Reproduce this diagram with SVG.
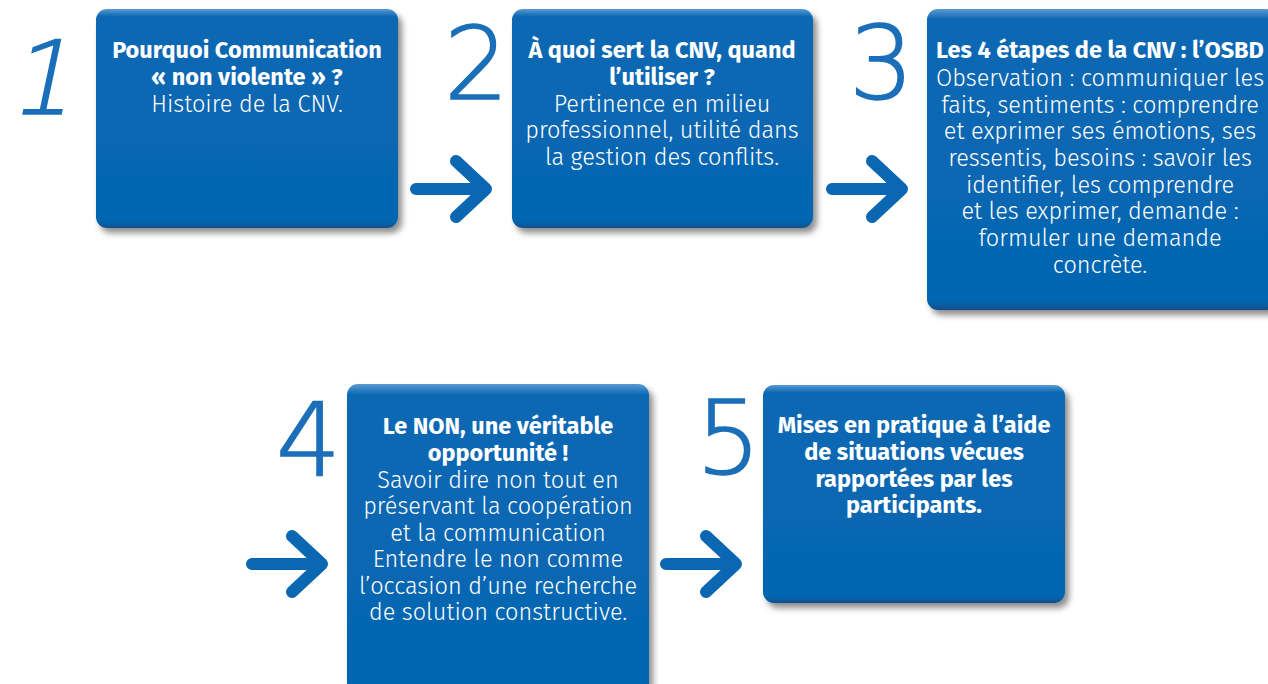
<svg xmlns="http://www.w3.org/2000/svg" width="1268" height="684" viewBox="0 0 1268 684">
<defs>
<linearGradient id="boxg" x1="0" y1="0" x2="0" y2="1">
<stop offset="0" stop-color="#5a9ad2"/>
<stop offset="0.035" stop-color="#0a67b3"/>
<stop offset="0.97" stop-color="#0566b2"/>
<stop offset="1" stop-color="#0b4f8a"/>
</linearGradient>
<filter id="sh" x="-10%" y="-10%" width="125%" height="125%">
<feDropShadow dx="4" dy="5" stdDeviation="3" flood-color="#000" flood-opacity="0.45"/>
</filter>
<symbol id="arrow" viewBox="0 0 84 70" overflow="visible">
<path d="M6 35 H74 M46 7 L76 35 L46 63" fill="none" stroke="#0b67b2" stroke-width="12" stroke-linecap="round" stroke-linejoin="round"/>
</symbol>
</defs>
<style>
.box{fill:url(#boxg);filter:url(#sh)}
.num{font-family:"DejaVu Sans","Liberation Sans",sans-serif;font-weight:200;font-size:102px;fill:#1b6fb8;stroke:#1b6fb8;stroke-width:1.6}
.t{font-family:"Fira Sans","Noto Sans","Liberation Sans",sans-serif;font-size:23.5px;fill:#fff;text-anchor:middle}
.b{font-weight:bold}
.l{font-weight:300}
</style>
<rect width="1268" height="684" fill="#fff"/>
<g id="connectors">
<use href="#arrow" x="410" y="154" width="84" height="70"/>
<use href="#arrow" x="826" y="154" width="84" height="70"/>
<use href="#arrow" x="246" y="529" width="84" height="70"/>
<use href="#arrow" x="660" y="529" width="84" height="70"/>
</g>
<g id="node1">
<text class="num" x="8" y="114" transform="skewX(-12)" transform-origin="40 114">1</text>
<rect class="box" x="96" y="9" width="302" height="219" rx="11"/>
<text class="t b" x="247" y="58">Pourquoi Communication</text>
<text class="t b" x="247" y="85">« non violente » ?</text>
<text class="t l" x="247" y="112">Histoire de la CNV.</text>
</g>
<g id="node2">
<text class="num" x="444" y="99">2</text>
<rect class="box" x="512" y="9" width="301" height="219" rx="11"/>
<text class="t b" x="662" y="58">À quoi sert la CNV, quand</text>
<text class="t b" x="662" y="85">l’utiliser ?</text>
<text class="t l" x="662" y="112">Pertinence en milieu</text>
<text class="t l" x="662" y="138">professionnel, utilité dans</text>
<text class="t l" x="662" y="165">la gestion des conflits.</text>
</g>
<g id="node3">
<text class="num" x="849" y="99">3</text>
<rect class="box" x="927" y="9" width="350" height="301" rx="11"/>
<text class="t b" x="1100" y="58">Les 4 étapes de la CNV : l’OSBD</text>
<text class="t l" x="1100" y="86">Observation : communiquer les</text>
<text class="t l" x="1100" y="113">faits, sentiments : comprendre</text>
<text class="t l" x="1100" y="139">et exprimer ses émotions, ses</text>
<text class="t l" x="1100" y="166">ressentis, besoins : savoir les</text>
<text class="t l" x="1100" y="193">identifier, les comprendre</text>
<text class="t l" x="1100" y="219">et les exprimer, demande :</text>
<text class="t l" x="1100" y="246">formuler une demande</text>
<text class="t l" x="1100" y="273">concrète.</text>
</g>
<g id="node4">
<text class="num" x="276" y="476">4</text>
<rect class="box" x="347" y="384" width="302" height="310" rx="11"/>
<text class="t b" x="498" y="434">Le NON, une véritable</text>
<text class="t b" x="498" y="461">opportunité !</text>
<text class="t l" x="498" y="488">Savoir dire non tout en</text>
<text class="t l" x="498" y="514">préservant la coopération</text>
<text class="t l" x="498" y="541">et la communication</text>
<text class="t l" x="498" y="567">Entendre le non comme</text>
<text class="t l" x="498" y="594">l’occasion d’une recherche</text>
<text class="t l" x="498" y="620">de solution constructive.</text>
</g>
<g id="node5">
<text class="num" x="696" y="474">5</text>
<rect class="box" x="763" y="385" width="302" height="218" rx="11"/>
<text class="t b" x="914" y="433">Mises en pratique à l’aide</text>
<text class="t b" x="914" y="460">de situations vécues</text>
<text class="t b" x="914" y="487">rapportées par les</text>
<text class="t b" x="914" y="513">participants.</text>
</g>
</svg>
